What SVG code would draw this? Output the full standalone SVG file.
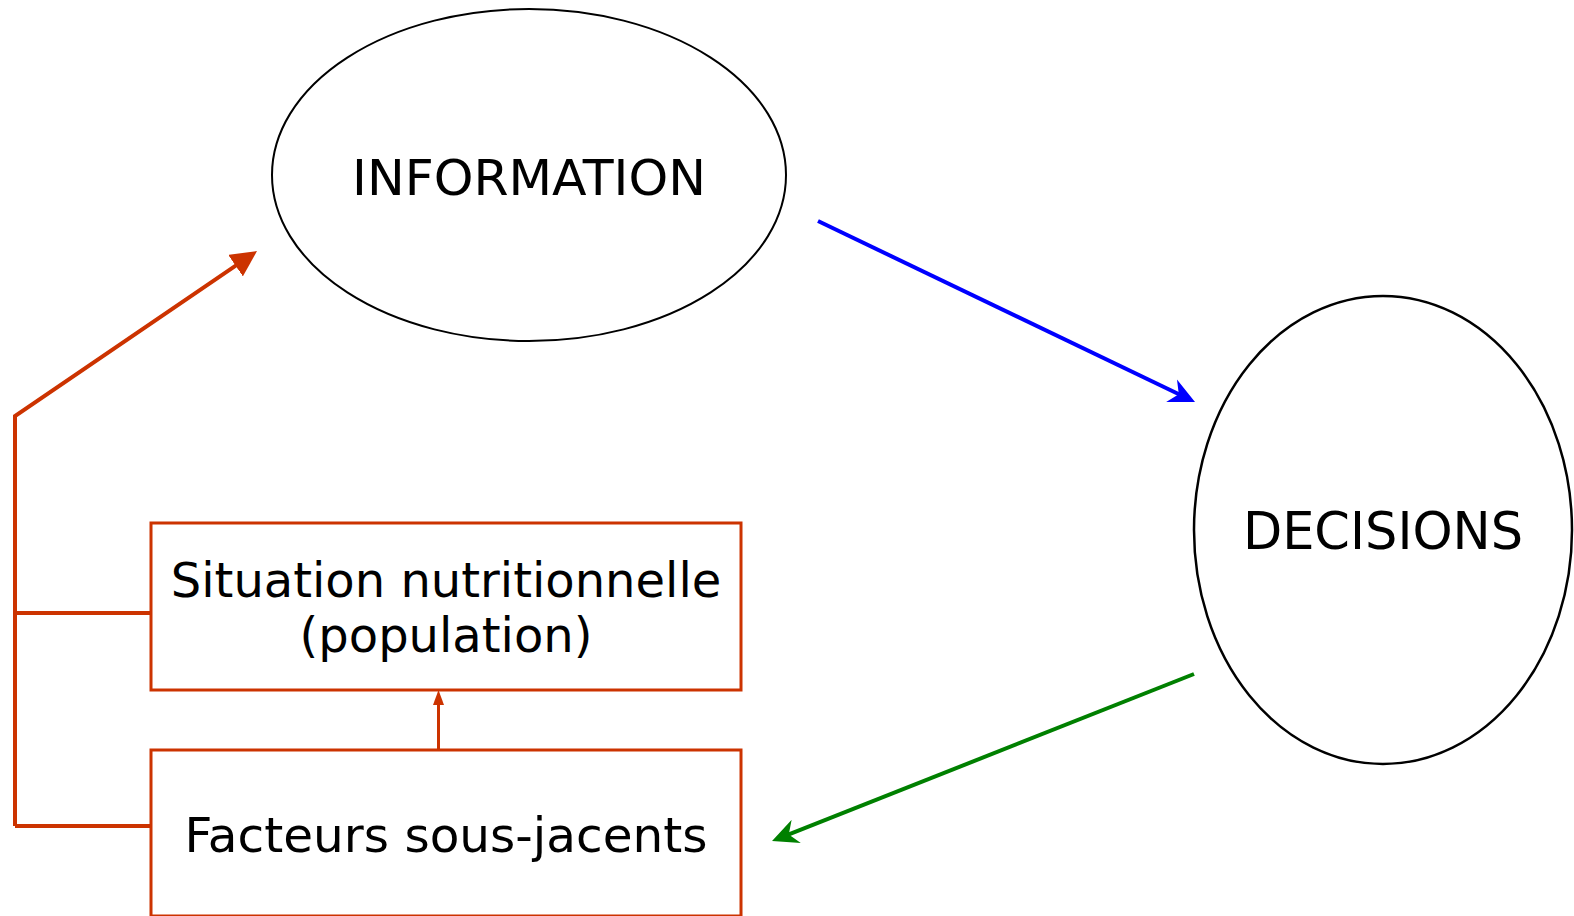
<svg xmlns="http://www.w3.org/2000/svg" width="1574" height="916" viewBox="0 0 1574 916">
<style>
.lbl{font-family:"DejaVu Sans","Verdana",sans-serif;fill:#000;text-anchor:middle}
.ell{fill:#fff;stroke:#000}
.box{fill:#fff;stroke:#cc3300;stroke-width:3}
.red{fill:none;stroke:#cc3300;stroke-width:4}
</style>
<defs>
<marker id="ahRed" markerUnits="userSpaceOnUse" markerWidth="26" markerHeight="26" viewBox="0 0 26 26" refX="6" refY="13" orient="auto"><path d="M0,0 L26,13 L0,26 z" fill="#cc3300"/></marker>
<marker id="ahRedSmall" markerUnits="userSpaceOnUse" markerWidth="15" markerHeight="11" viewBox="0 0 15 11" refX="4" refY="5.5" orient="auto"><path d="M0,0 L15,5.5 L0,11 z" fill="#cc3300"/></marker>
<marker id="ahBlue" markerUnits="userSpaceOnUse" markerWidth="26" markerHeight="26" viewBox="0 0 26 26" refX="14" refY="13" orient="auto"><path d="M0,0.5 L26,13 L0,25.5 L8,13 z" fill="#0000ff"/></marker>
<marker id="ahGreen" markerUnits="userSpaceOnUse" markerWidth="26" markerHeight="26" viewBox="0 0 26 26" refX="14" refY="13" orient="auto"><path d="M0,0.5 L26,13 L0,25.5 L8,13 z" fill="#008000"/></marker>
</defs>
<g id="connectors">
<path class="red" d="M15,826 L15,416 L240.5,262.3" marker-end="url(#ahRed)"/>
<path class="red" d="M15,613 L151,613"/>
<path class="red" d="M15,826 L151,826"/>
<path d="M438.5,750 L438.5,701" fill="none" stroke="#cc3300" stroke-width="3" marker-end="url(#ahRedSmall)"/>
<path d="M818,221 L1184.2,396.8" fill="none" stroke="#0000ff" stroke-width="4" marker-end="url(#ahBlue)"/>
<path d="M1194,674 L783.2,836.6" fill="none" stroke="#008000" stroke-width="4" marker-end="url(#ahGreen)"/>
</g>
<g id="information">
<ellipse class="ell" cx="529" cy="175" rx="257" ry="166" stroke-width="2"/>
<text class="lbl" x="529" y="195" font-size="50.5">INFORMATION</text>
</g>
<g id="decisions">
<ellipse class="ell" cx="1383" cy="530" rx="189" ry="234" stroke-width="2.5"/>
<text class="lbl" x="1383" y="549" font-size="51">DECISIONS</text>
</g>
<g id="situation">
<rect class="box" x="151" y="523" width="590" height="167"/>
<text class="lbl" x="446" y="597" font-size="48">Situation nutritionnelle</text>
<text class="lbl" x="446" y="652" font-size="48">(population)</text>
</g>
<g id="facteurs">
<rect class="box" x="151" y="750" width="590" height="166"/>
<text class="lbl" x="446" y="852" font-size="48.5">Facteurs sous-jacents</text>
</g>
</svg>
